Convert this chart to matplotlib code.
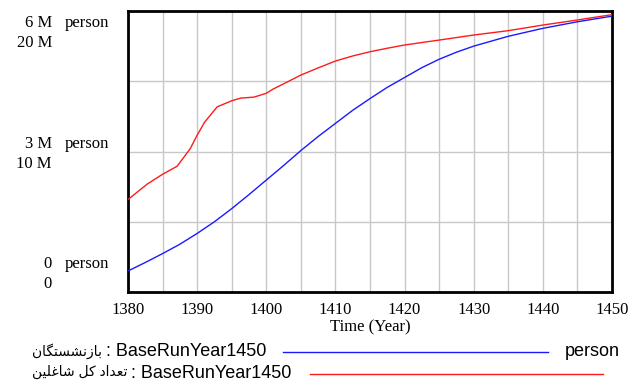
import matplotlib
matplotlib.use("Agg")
import matplotlib.pyplot as plt
import matplotlib.transforms as mtransforms
from matplotlib.lines import Line2D

# blue series: retirees (million person), scale 0-6 M
retired_years = [1380, 1382.5, 1385, 1387.5, 1390, 1392.5, 1395, 1397.5, 1400,
                 1402.5, 1405, 1407.5, 1410, 1412.5, 1415, 1417.5, 1420, 1422.5,
                 1425, 1427.5, 1430, 1435, 1440, 1445, 1450]
retired = [0.449, 0.63, 0.82, 1.02, 1.25, 1.50, 1.78, 2.08, 2.39,
           2.70, 3.02, 3.32, 3.60, 3.88, 4.13, 4.37, 4.58, 4.79,
           4.97, 5.12, 5.25, 5.46, 5.63, 5.77, 5.89]

# red series: total employed (million person), scale 0-20 M
employed_years = [1380, 1382.75, 1385, 1387.1, 1389, 1390, 1391.1, 1392.9, 1395,
                  1396.3, 1398.2, 1400, 1400.9, 1402.8, 1405, 1407.5, 1410, 1412.5,
                  1415, 1417.5, 1420, 1425, 1430, 1435, 1440, 1445, 1450]
employed = [6.58, 7.67, 8.38, 8.95, 10.2, 11.16, 12.1, 13.18, 13.61,
            13.80, 13.87, 14.14, 14.42, 14.89, 15.44, 15.95, 16.44, 16.8,
            17.1, 17.35, 17.58, 17.93, 18.29, 18.6, 19.0, 19.36, 19.74]

x_ticks = list(range(1380, 1451, 5))
x_labels = ["1380", "", "1390", "", "1400", "", "1410", "", "1420", "",
            "1430", "", "1440", "", "1450"]
blue_ticks = [0, 3, 6]
blue_labels = ["0", "3 M", "6 M"]
red_labels = ["0", "10 M", "20 M"]
unit = "person"
run_name = "BaseRunYear1450"
name_retired = "بازنشستگان"
name_employed = "تعداد کل شاغلین"

# minimal Persian shaping (matplotlib has no complex text layout)
FORMS = {
    "\u0627": ("\uFE8D", "\uFE8E", None, None),
    "\u0628": ("\uFE8F", "\uFE90", "\uFE91", "\uFE92"),
    "\u062A": ("\uFE95", "\uFE96", "\uFE97", "\uFE98"),
    "\u062F": ("\uFEA9", "\uFEAA", None, None),
    "\u0632": ("\uFEAF", "\uFEB0", None, None),
    "\u0633": ("\uFEB1", "\uFEB2", "\uFEB3", "\uFEB4"),
    "\u0634": ("\uFEB5", "\uFEB6", "\uFEB7", "\uFEB8"),
    "\u0639": ("\uFEC9", "\uFECA", "\uFECB", "\uFECC"),
    "\u063A": ("\uFECD", "\uFECE", "\uFECF", "\uFED0"),
    "\u0644": ("\uFEDD", "\uFEDE", "\uFEDF", "\uFEE0"),
    "\u0646": ("\uFEE5", "\uFEE6", "\uFEE7", "\uFEE8"),
    "\u06A9": ("\uFB8E", "\uFB8F", "\uFB90", "\uFB91"),
    "\u06AF": ("\uFB92", "\uFB93", "\uFB94", "\uFB95"),
    "\u06CC": ("\uFBFC", "\uFBFD", "\uFBFE", "\uFBFF"),
}


def shape_fa(text):
    out = []
    for i, c in enumerate(text):
        if c not in FORMS:
            out.append(c)
            continue
        prev = text[i - 1] if i > 0 else None
        nxt = text[i + 1] if i + 1 < len(text) else None
        join_prev = prev in FORMS and FORMS[prev][2] is not None
        join_next = FORMS[c][2] is not None and nxt in FORMS
        iso, fin, ini, med = FORMS[c]
        if join_prev and join_next:
            out.append(med)
        elif join_prev:
            out.append(fin)
        elif join_next:
            out.append(ini)
        else:
            out.append(iso)
    return "".join(reversed(out))


W, H = 630, 381
fig = plt.figure(figsize=(W / 100, H / 100), dpi=100)
ax = fig.add_axes([128 / W, 1 - 292 / H, 484 / W, 281 / H])

serif = ["Liberation Serif", "DejaVu Serif"]
sans = ["Liberation Sans", "DejaVu Sans"]

ax.plot(retired_years, retired, color="#1a1aff", lw=1.0, zorder=3)
ax.set_xlim(1380, 1450)
ax.set_ylim(0, 6)
ax.set_yticks([0, 1.5, 3, 4.5, 6])
ax.set_yticklabels([])
ax.set_xticks(x_ticks)
ax.set_xticklabels(x_labels, fontfamily=serif, fontsize=12)
ax.tick_params(length=0, pad=7)
ax.grid(True, color="#c8c8c8", lw=1.0)
ax.set_axisbelow(True)
for s in ax.spines.values():
    s.set_linewidth(2.0)
    s.set_color("black")
ax.set_xlabel("Time (Year)", fontfamily=serif, fontsize=12, labelpad=1)

ax2 = ax.twinx()
ax2.plot(employed_years, employed, color="#ff1a1a", lw=1.0)
ax2.set_ylim(0, 20)
ax2.set_xlim(1380, 1450)
ax2.axis("off")

# y labels for both scales
ytrans = ax.get_yaxis_transform()
shifts = [28, 8, -12]
for v, bl, rl, dy in zip(blue_ticks, blue_labels, red_labels, shifts):
    t_up = mtransforms.offset_copy(ytrans, fig=fig, x=0, y=dy, units="dots")
    t_dn = mtransforms.offset_copy(ytrans, fig=fig, x=0, y=dy - 20, units="dots")
    ax.text(-76 / 484, v, bl, transform=t_up, ha="right", va="center",
            fontfamily=serif, fontsize=12)
    ax.text(-63 / 484, v, unit, transform=t_up, ha="left", va="center",
            fontfamily=serif, fontsize=12)
    ax.text(-76 / 484, v, rl, transform=t_dn, ha="right", va="center",
            fontfamily=serif, fontsize=12)

# legend rows
y1, y2 = 1 - 352 / H, 1 - 373 / H
fig.text(32 / W, y1 + 0.003, shape_fa(name_retired), ha="left", va="center",
         fontfamily=sans, fontsize=10)
fig.text(106 / W, y1, ": " + run_name, ha="left", va="center",
         fontfamily=sans, fontsize=13)
fig.add_artist(Line2D([283 / W, 548 / W], [y1] * 2, color="#1a1aff", lw=1.0))
fig.text(565 / W, y1, unit, ha="left", va="center",
         fontfamily=sans, fontsize=13)
fig.text(32 / W, y2 + 0.003, shape_fa(name_employed), ha="left", va="center",
         fontfamily=sans, fontsize=10)
fig.text(131 / W, y2, ": " + run_name, ha="left", va="center",
         fontfamily=sans, fontsize=13)
fig.add_artist(Line2D([310 / W, 603 / W], [1 - 374 / H] * 2, color="#ff1a1a", lw=1.0))

fig.savefig("out.png", dpi=100)
